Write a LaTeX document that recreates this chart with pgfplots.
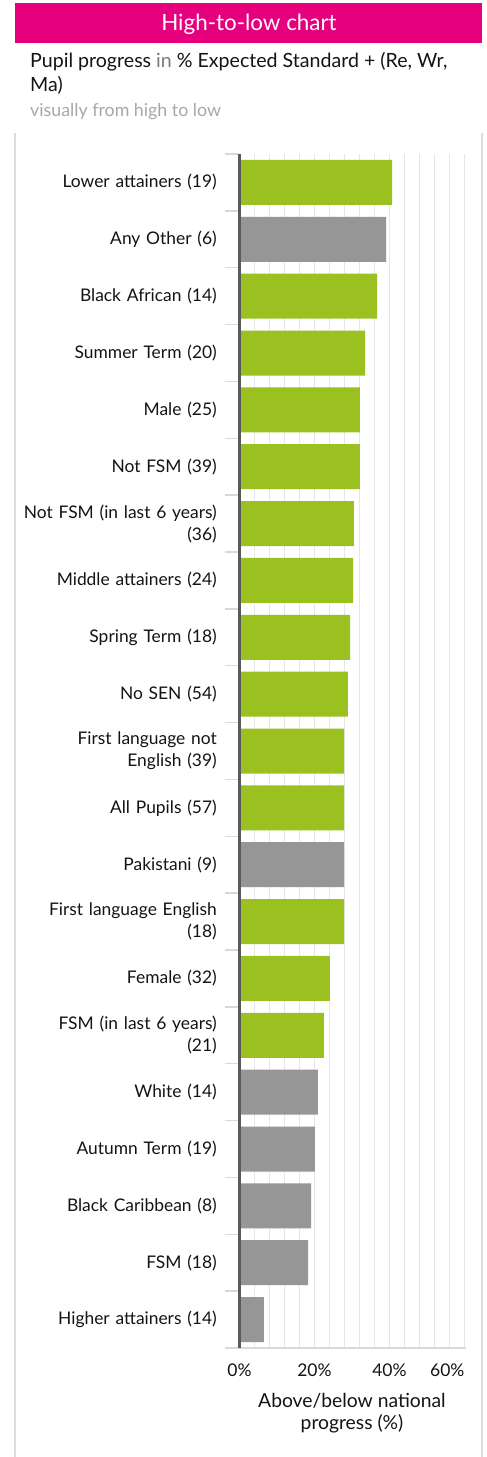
\documentclass[border=0pt]{standalone}
\usepackage{pgfplots}
\pgfplotsset{compat=1.18}
\usepackage{fontspec}
\setmainfont{Lato}
\definecolor{hpink}{HTML}{E6007E}
\definecolor{barGreen}{HTML}{9BC121}
\definecolor{barGray}{HTML}{969696}
\definecolor{gridGray}{HTML}{E6E6E6}
\definecolor{tickGray}{HTML}{D9D9D9}
\definecolor{axisDark}{HTML}{5A5A5A}
\definecolor{panelGray}{HTML}{DCDCDC}
\definecolor{txtDark}{HTML}{141414}
\definecolor{txtMid}{HTML}{7A7A7A}
\definecolor{txtLight}{HTML}{A8A8A8}
\begin{document}
\begin{tikzpicture}[x=1pt,y=1pt]
\useasboundingbox (0,0) rectangle (487,1457);
\fill[white] (0,0) rectangle (487,1457);
% header
\fill[hpink] (15,1414) rectangle (482,1454);
\node[anchor=base, white, font=\fontsize{22.4}{26}\selectfont, inner sep=0] at (249,1426) {High-to-low chart};
% panel borders
\draw[panelGray, line width=2] (15,0) -- (15,1324);
\draw[panelGray, line width=2] (482,0) -- (482,1324);
% subtitle
\node[anchor=base west, inner sep=0, font=\fontsize{19.6}{24}\selectfont, txtDark] at (30,1389) {Pupil progress \textcolor{txtMid}{in} \% Expected Standard + (Re, Wr,};
\node[anchor=base west, inner sep=0, font=\fontsize{19.6}{24}\selectfont, txtDark] at (30,1365) {Ma)};
\node[anchor=base west, inner sep=0, font=\fontsize{17.8}{20}\selectfont, txtLight] at (30,1340) {visually from high to low};
\begin{axis}[
  at={(239.5pt,109pt)}, anchor=south west,
  scale only axis, width=225pt, height=1194pt,
  xmin=0, xmax=60, ymin=-0.5, ymax=20.5,
  xbar, bar width=45pt, bar shift=0pt,
  clip=false,
  axis line style={draw=none},
  major tick length=0pt, minor tick length=0pt,
  tick style={draw=none},
  xtick={0,20,40,60},
  xticklabels={0\%,20\%,40\%,\makebox[0pt][r]{60\%}},
  minor x tick num=4,
  xmajorgrids, xminorgrids,
  major grid style={gridGray, line width=1.6pt},
  minor grid style={gridGray, line width=1.6pt},
  xticklabel style={anchor=base, yshift=-29pt, inner sep=0pt, font=\fontsize{17.5}{20}\selectfont, text=txtDark},
  ytick={0,...,20},
  yticklabels={
    Higher attainers (14),
    FSM (18),
    Black Caribbean (8),
    Autumn Term (19),
    White (14),
    {FSM (in last 6 years)\\(21)},
    Female (32),
    {First language English\\(18)},
    Pakistani (9),
    All Pupils (57),
    {First language not\\English (39)},
    No SEN (54),
    Spring Term (18),
    Middle attainers (24),
    {Not FSM (in last 6 years)\\(36)},
    Not FSM (39),
    Male (25),
    Summer Term (20),
    Black African (14),
    Any Other (6),
    Lower attainers (19)},
  yticklabel style={anchor=east, align=right, text width=215pt, inner sep=0pt, xshift=-22.5pt,
    font=\fontsize{17.4}{22}\selectfont, text=txtDark},
  xlabel={Above/below national\\progress (\%)},
  xlabel style={at={(axis description cs:0.5,0)}, anchor=north, yshift=-45pt, inner sep=0pt,
    align=center, font=\fontsize{19.3}{22.5}\selectfont, text=txtDark},
]
\addplot[fill=barGreen, draw=none] coordinates {
  (40.7,20) (36.7,18) (33.5,17) (32.1,16) (32.1,15) (30.5,14) (30.3,13)
  (29.5,12) (28.9,11) (27.9,10) (27.9,9) (27.9,7) (24.1,6) (22.5,5)};
\addplot[fill=barGray, draw=none] coordinates {
  (39.1,19) (27.9,8) (20.9,4) (20.1,3) (19.1,2) (18.3,1) (6.5,0)};
\pgfplotsinvokeforeach{-0.5,0.5,1.5,2.5,3.5,4.5,5.5,6.5,7.5,8.5,9.5,10.5,11.5,12.5,13.5,14.5,15.5,16.5,17.5,18.5,19.5}{
  \draw[tickGray, line width=1.5pt] ([xshift=-14pt]axis cs:0,#1) -- (axis cs:0,#1);
}
\draw[tickGray, line width=1.5pt] ([xshift=-14pt]axis cs:0,20.5) -- (axis cs:0,20.5);
\draw[tickGray, line width=1.5pt] ([xshift=-14pt]axis cs:0,-0.5) -- ([xshift=1pt]axis cs:60,-0.5);
\draw[axisDark, line width=3pt] (axis cs:0,-0.5) -- (axis cs:0,20.5);
\end{axis}
\end{tikzpicture}
\end{document}
